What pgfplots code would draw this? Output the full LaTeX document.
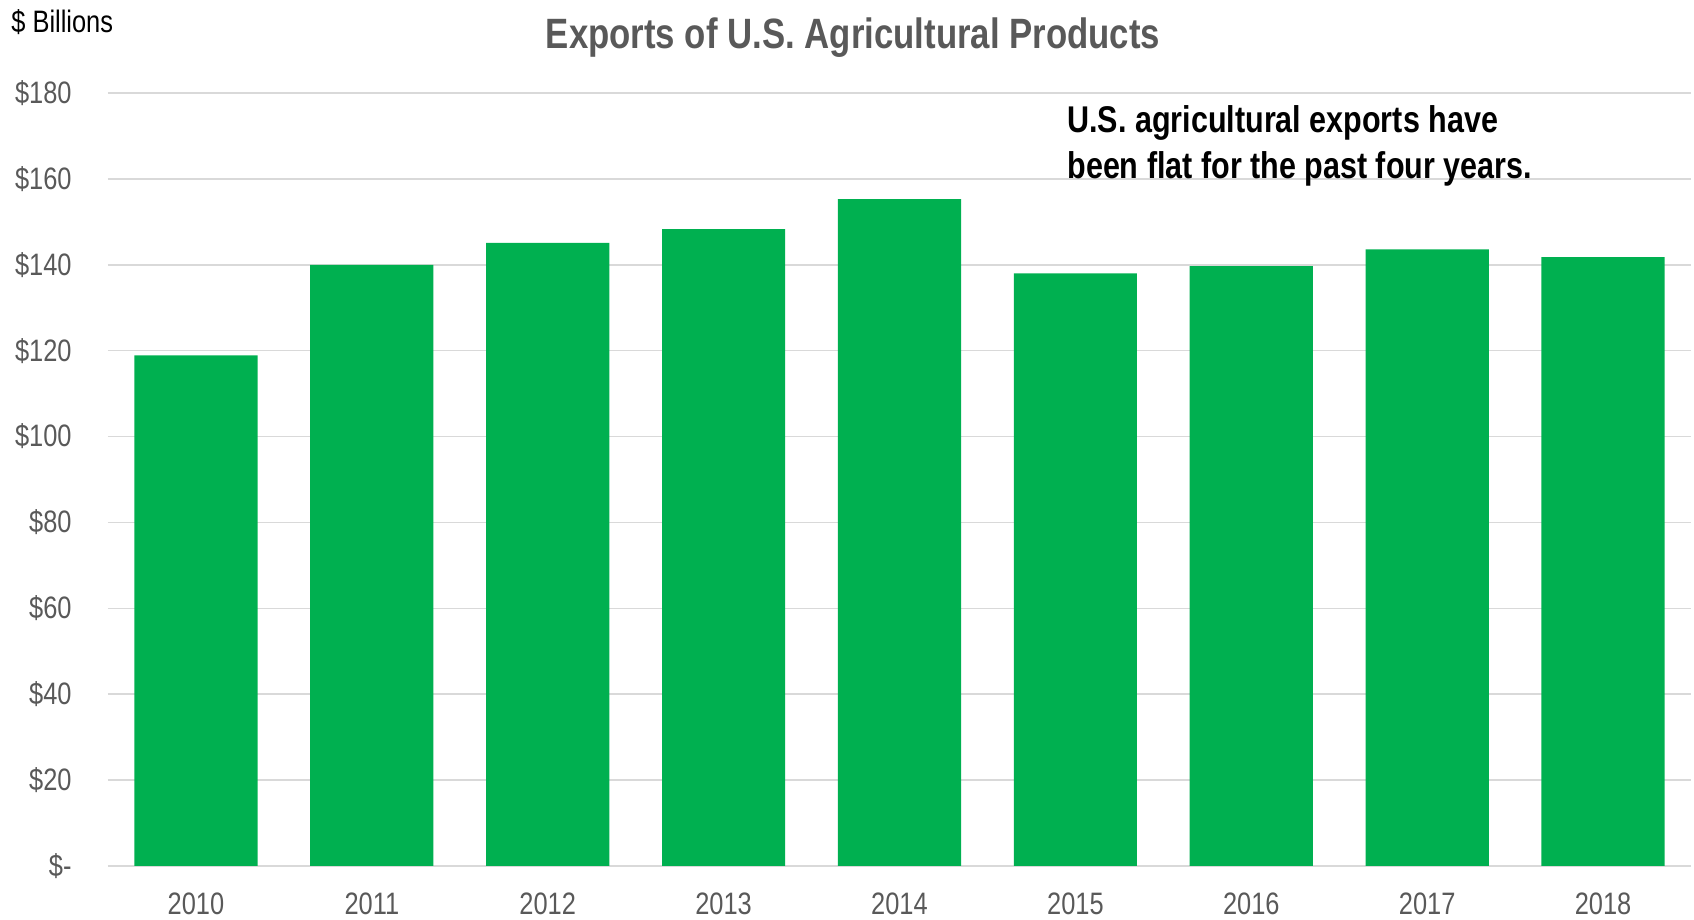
\documentclass[border=0pt]{standalone}
\usepackage{fontspec}
\setmainfont{Liberation Sans}[FakeStretch=0.82]
\usepackage{pgfplots}
\pgfplotsset{compat=1.18}
\definecolor{bargreen}{HTML}{00B050}
\definecolor{txtgray}{HTML}{595959}
\definecolor{gridgray}{HTML}{D9D9D9}
\begin{document}
\begin{tikzpicture}[x=1pt,y=1pt]
\useasboundingbox (0,0) rectangle (847,460);
\begin{axis}[
  at={(54pt,27pt)}, anchor=south west,
  scale only axis, width=791.5pt, height=386.5pt,
  xmin=-0.5, xmax=8.5, ymin=0, ymax=180,
  axis line style={draw=none},
  ymajorgrids, grid style={gridgray, line width=0.75pt},
  ytick={0,20,...,180},
  yticklabels={\$-,\$20,\$40,\$60,\$80,\$100,\$120,\$140,\$160,\$180},
  xtick={0,...,8},
  xticklabels={2010,2011,2012,2013,2014,2015,2016,2017,2018},
  major tick length=0pt,
  tick style={draw=none},
  yticklabel style={anchor=east, inner sep=0pt, xshift=-18pt, font=\fontsize{15.5}{18}\selectfont, text=txtgray},
  xticklabel style={anchor=north, inner sep=0pt, yshift=-13pt, font=\fontsize{15.5}{18}\selectfont, text=txtgray},
  clip=false,
]
\addplot[ybar, bar width=61.6pt, fill=bargreen, draw=none] coordinates {
 (0,118.9) (1,140.0) (2,145.1) (3,148.3) (4,155.3) (5,138.0) (6,139.7) (7,143.6) (8,141.8)
};
\end{axis}
\node[anchor=base, inner sep=0pt, text=txtgray, font=\fontsize{21.2}{25}\selectfont\bfseries] at (426.5,435.5) {Exports of U.S. Agricultural Products};
\node[anchor=base west, inner sep=0pt, font=\fontsize{15.5}{18}\selectfont] at (5.5,443.5) {\$ Billions};
\node[anchor=base west, inner sep=0pt, font=\fontsize{18.6}{22}\selectfont\bfseries] at (533.5,393.5) {U.S. agricultural exports have};
\node[anchor=base west, inner sep=0pt, font=\fontsize{18.6}{22}\selectfont\bfseries] at (533.5,370.8) {been flat for the past four years.};
\end{tikzpicture}
\end{document}
